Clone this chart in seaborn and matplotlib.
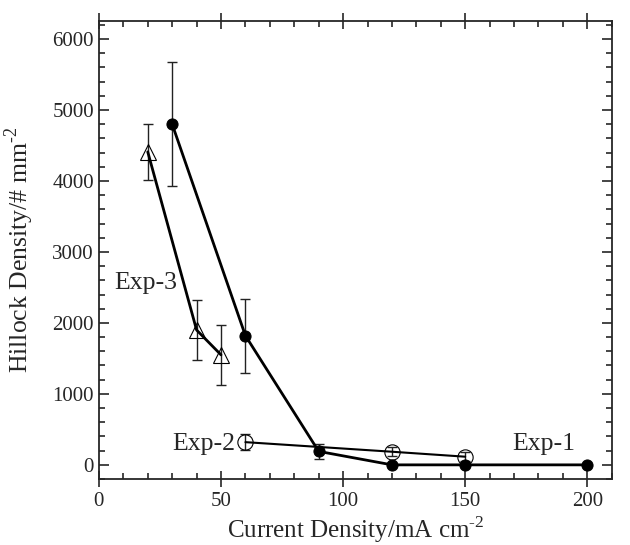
import matplotlib
matplotlib.use("Agg")
import matplotlib.pyplot as plt
import seaborn as sns
from matplotlib.ticker import MultipleLocator

# Data
exp1_x = [30, 60, 90, 120, 150, 200]
exp1_y = [4800, 1820, 190, 0, 0, 0]
exp1_err = [870, 520, 110, 0, 0, 0]

exp2_x = [60, 120, 150]
exp2_y = [320, 185, 115]
exp2_err = [115, 60, 60]

exp3_x = [20, 40, 50]
exp3_y = [4410, 1900, 1550]
exp3_err = [390, 420, 420]

sns.set_style("ticks")
plt.rcParams["font.family"] = ["Liberation Serif", "DejaVu Serif"]
plt.rcParams["mathtext.fontset"] = "custom"
plt.rcParams["mathtext.rm"] = "Liberation Serif"

fig = plt.figure(figsize=(6.3, 5.45), dpi=100)
ax = fig.add_axes([0.157, 0.121, 0.814, 0.840])

# error bars
for xs, ys, es in [(exp1_x, exp1_y, exp1_err), (exp2_x, exp2_y, exp2_err), (exp3_x, exp3_y, exp3_err)]:
    ax.errorbar(xs, ys, yerr=es, fmt="none", ecolor="#222222", elinewidth=1, capsize=3.5, capthick=1, zorder=2)

sns.lineplot(x=exp1_x, y=exp1_y, ax=ax, color="black", lw=2, marker="o", markersize=8,
             markerfacecolor="black", markeredgecolor="black", zorder=3)
sns.lineplot(x=exp2_x, y=exp2_y, ax=ax, color="black", lw=1.5, marker="o", markersize=11,
             markerfacecolor="none", markeredgecolor="black", markeredgewidth=0.8, zorder=3)
sns.lineplot(x=exp3_x, y=exp3_y, ax=ax, color="black", lw=2, marker="^", markersize=12,
             markerfacecolor="none", markeredgecolor="black", markeredgewidth=0.8, zorder=3)

ax.text(19, 2560, "Exp-3", fontsize=18.5, ha="center", va="center")
ax.text(43, 300, "Exp-2", fontsize=18.5, ha="center", va="center")
ax.text(182, 290, "Exp-1", fontsize=18.5, ha="center", va="center")

ax.set_xlim(0, 210)
ax.set_ylim(-200, 6250)
ax.xaxis.set_major_locator(MultipleLocator(50))
ax.xaxis.set_minor_locator(MultipleLocator(10))
ax.yaxis.set_major_locator(MultipleLocator(1000))
ax.yaxis.set_minor_locator(MultipleLocator(200))
ax.tick_params(which="both", direction="in", top=True, right=True, width=1.2, labelsize=15)
ax.tick_params(axis="x", which="major", direction="inout", length=12)
ax.tick_params(axis="y", which="major", length=7)
ax.tick_params(which="minor", length=4)
for s in ax.spines.values():
    s.set_linewidth(1.3)

ax.set_xlabel("Current Density/mA cm$^{\\text{-2}}$", fontsize=18, labelpad=2)
ax.set_ylabel("Hillock Density/# mm$^{\\text{-2}}$", fontsize=18.5, labelpad=12)

fig.savefig("out.png", dpi=100)
